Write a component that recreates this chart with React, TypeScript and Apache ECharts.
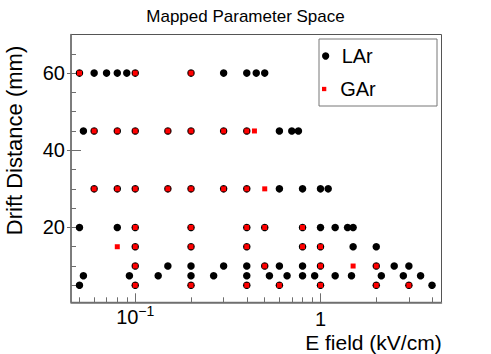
import React, { useEffect, useRef } from "react";
import * as echarts from "echarts";

const FONT = "Liberation Sans";

// Drift distance rows (mm)
const distances = [60, 45, 30, 20, 15, 10, 7.5, 5];

// LAr E-field values (kV/cm) for each drift-distance row
const larFields: number[][] = [
  [0.05, 0.06, 0.07, 0.08, 0.09, 0.1, 0.2, 0.3, 0.4, 0.45, 0.5],
  [0.0525, 0.06, 0.08, 0.1, 0.15, 0.2, 0.3, 0.4, 0.6, 0.7, 0.76],
  [0.06, 0.08, 0.1, 0.15, 0.2, 0.3, 0.4, 0.6, 0.8, 1.0, 1.1],
  [0.05, 0.08, 0.1, 0.2, 0.4, 0.5, 0.8, 1.0, 1.2, 1.4, 1.5],
  [0.1, 0.2, 0.4, 0.8, 1.0, 1.5, 2.0],
  [0.1, 0.15, 0.2, 0.3, 0.4, 0.5, 0.6, 0.8, 1.0, 2.0, 2.5, 3.0],
  [0.0525, 0.093, 0.133, 0.2, 0.265, 0.4, 0.53, 0.66, 0.8, 0.93, 1.2, 1.47, 2.13, 2.8, 3.47],
  [0.05, 0.1, 0.2, 0.4, 0.6, 1.0, 2.0, 3.0, 4.0],
];

// GAr E-field values (kV/cm) for each drift-distance row
const garFields: number[][] = [
  [0.05, 0.1, 0.2],
  [0.06, 0.08, 0.1, 0.15, 0.2, 0.3, 0.4, 0.44],
  [0.06, 0.08, 0.1, 0.15, 0.2, 0.3, 0.4, 0.5],
  [0.1, 0.2, 0.4, 0.5, 0.8],
  [0.08, 0.1, 0.2, 0.4, 0.8, 1.0],
  [0.1, 0.5, 1.0, 1.5, 2.0],
  [],
  [0.1, 0.2, 0.4, 0.6, 1.0, 2.0, 3.0],
];

const xMajorTicks = [0.1, 1];
const xMinorTicks = [0.05, 0.06, 0.07, 0.08, 0.09, 0.2, 0.3, 0.4, 0.5, 0.6, 0.7, 0.8, 0.9, 2, 3, 4];
const yMajorTicks = [20, 40, 60];
const yMinorTicks = [5, 10, 15, 25, 30, 35, 45, 50, 55, 65];

const X_MIN = 0.045;
const X_MAX = 4.5;
const Y_MIN = 0.6;
const Y_MAX = 70;

function toPoints(fields: number[][]): number[][] {
  const out: number[][] = [];
  fields.forEach((row, i) => row.forEach((e) => out.push([e, distances[i]])));
  return out;
}

const AXIS_COLOR = "#6e6e6e";

export default function App() {
  const ref = useRef<HTMLDivElement>(null);
  useEffect(() => {
    document.body.style.margin = "0";
    if (!ref.current) return;
    const chart = echarts.init(ref.current, null, { renderer: "svg" });
    const baseX = {
      type: "log" as const,
      logBase: 10,
      min: X_MIN,
      max: X_MAX,
      position: "bottom" as const,
      splitLine: { show: false },
      minorTick: { show: false },
    };
    const baseY = {
      type: "value" as const,
      min: Y_MIN,
      max: Y_MAX,
      position: "left" as const,
      splitLine: { show: false },
      minorTick: { show: false },
    };
    chart.setOption({
      animation: false,
      title: {
        text: "Mapped Parameter Space",
        left: "center",
        top: 3,
        textStyle: { fontSize: 17, fontWeight: "normal", color: "#000", fontFamily: FONT },
      },
      grid: {
        left: 71,
        right: 49.5,
        top: 34.5,
        bottom: 51.7,
        show: true,
        borderColor: "#555",
        borderWidth: 1,
        backgroundColor: "transparent",
        containLabel: false,
        outerBoundsMode: "none",
      },
      xAxis: [
        {
          ...baseX,
          axisLine: { show: true, lineStyle: { color: AXIS_COLOR, width: 1.5 } },
          axisTick: {
            show: true,
            inside: true,
            length: 5,
            customValues: xMinorTicks,
            lineStyle: { color: AXIS_COLOR, width: 1 },
          },
          axisLabel: {
            show: true,
            customValues: [xMajorTicks[1]],
            showMinLabel: true,
            showMaxLabel: true,
            margin: 9,
            formatter: () => "{b|1}",
            rich: {
              b: { fontSize: 20, lineHeight: 15, fontFamily: FONT, color: "#000" },
            },
          },
        },
        {
          ...baseX,
          axisLine: { show: false },
          axisTick: {
            show: true,
            inside: true,
            length: 9,
            customValues: xMajorTicks,
            lineStyle: { color: AXIS_COLOR, width: 1 },
          },
          axisLabel: {
            show: true,
            customValues: [xMajorTicks[0]],
            showMinLabel: true,
            showMaxLabel: true,
            margin: 3.8,
            formatter: () => "{b|10}{s|\u22121}",
            rich: {
              b: { fontSize: 20, lineHeight: 16, padding: [5, 0, 0, 0], fontFamily: FONT, color: "#000" },
              s: { fontSize: 14, lineHeight: 14, padding: [0, 0, 7, 0], fontFamily: FONT, color: "#000" },
            },
          },
        },
      ],
      yAxis: [
        {
          ...baseY,
          axisLine: { show: true, lineStyle: { color: AXIS_COLOR, width: 1.5 } },
          axisTick: {
            show: true,
            inside: true,
            length: 5,
            customValues: yMinorTicks,
            lineStyle: { color: AXIS_COLOR, width: 1 },
          },
          axisLabel: {
            show: true,
            customValues: yMajorTicks,
            showMinLabel: true,
            showMaxLabel: true,
            margin: 6,
            fontSize: 20,
            fontFamily: FONT,
            color: "#000",
          },
        },
        {
          ...baseY,
          axisLine: { show: false },
          axisTick: {
            show: true,
            inside: true,
            length: 10,
            customValues: yMajorTicks,
            lineStyle: { color: AXIS_COLOR, width: 1 },
          },
          axisLabel: { show: false },
        },
        {
          ...baseY,
          axisLine: { show: false },
          axisTick: {
            show: true,
            inside: false,
            length: 4,
            customValues: yMajorTicks,
            lineStyle: { color: AXIS_COLOR, width: 1 },
          },
          axisLabel: { show: false },
        },
      ],
      legend: [
        {
          data: [{ name: "LAr", icon: "circle" }],
          left: 322,
          top: 46,
          padding: 0,
          itemWidth: 22,
          itemHeight: 7.3,
          selectedMode: false,
          z: 10,
          textStyle: { fontSize: 20, fontFamily: FONT, color: "#000" },
        },
        {
          data: [{ name: "GAr", icon: "path://M0,0H10V10H0Z" }],
          left: 322,
          top: 79,
          padding: 0,
          itemWidth: 22,
          itemHeight: 4.3,
          selectedMode: false,
          z: 10,
          textStyle: { fontSize: 20, fontFamily: FONT, color: "#000" },
        },
      ],
      graphic: [
        {
          type: "rect",
          z: 5,
          shape: { x: 319, y: 39, width: 118, height: 67 },
          style: { fill: "#fff", stroke: "#777", lineWidth: 1 },
        },
        {
          type: "text",
          x: 441.7,
          y: 342,
          style: {
            text: "E field (kV/cm)",
            font: `21px "${FONT}"`,
            lineHeight: 18,
            fill: "#000",
            align: "right",
            verticalAlign: "middle",
          },
        },
        {
          type: "text",
          x: 14,
          y: 140.5,
          rotation: Math.PI / 2,
          style: {
            text: "Drift Distance (mm)",
            font: `22px "${FONT}"`,
            fill: "#000",
            align: "center",
            verticalAlign: "middle",
          },
        },
      ],
      series: [
        {
          type: "scatter",
          name: "LAr",
          xAxisIndex: 0,
          yAxisIndex: 0,
          data: toPoints(larFields),
          symbol: "circle",
          symbolSize: 7.5,
          itemStyle: { color: "#000", opacity: 1 },
          z: 2,
        },
        {
          type: "scatter",
          name: "GAr",
          xAxisIndex: 0,
          yAxisIndex: 0,
          data: toPoints(garFields),
          symbol: "rect",
          symbolSize: 5,
          itemStyle: { color: "#ff0000", opacity: 1 },
          z: 3,
        },
      ],
    });
    return () => chart.dispose();
  }, []);
  return <div ref={ref} style={{ width: 491, height: 354, position: "absolute", left: 0, top: 0 }} />;
}
